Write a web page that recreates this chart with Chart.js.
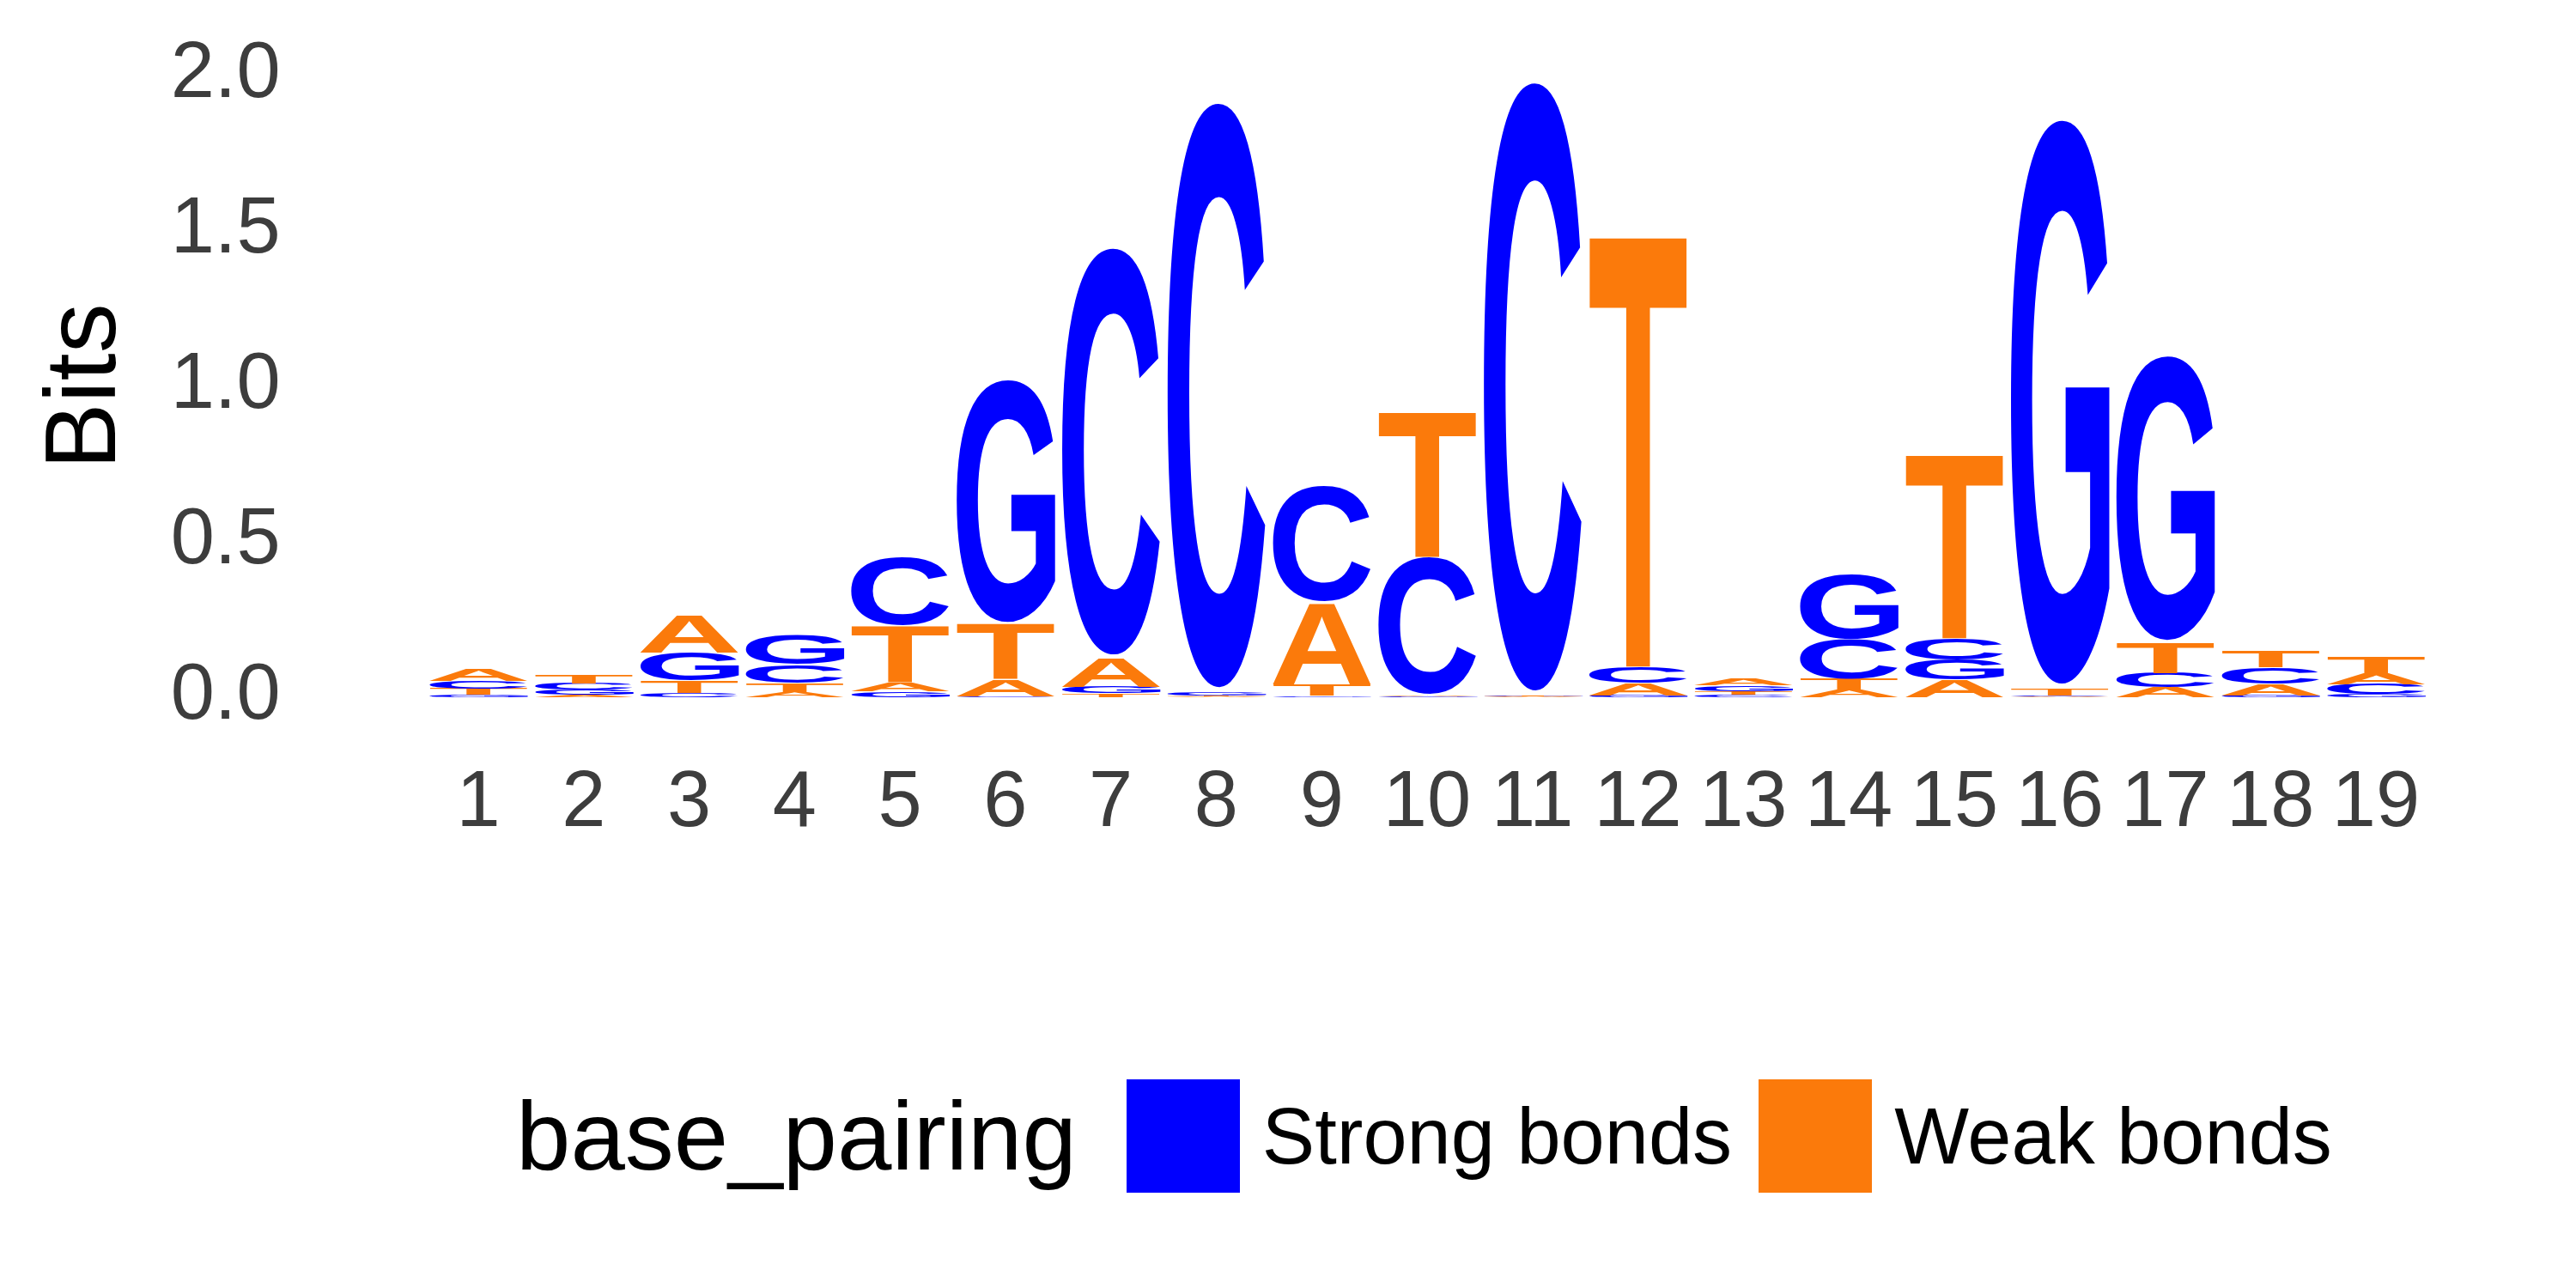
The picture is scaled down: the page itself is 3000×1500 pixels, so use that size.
<!DOCTYPE html>
<html>
<head>
<meta charset="utf-8">
<title>Sequence logo</title>
<script src="https://cdn.jsdelivr.net/npm/chart.js@4.4.0/dist/chart.umd.min.js"></script>
<style>
    body { margin: 0; background: #ffffff; }
    #wrap { position: relative; width: 3000px; height: 1500px; }
    #logoChart { display: block; }
    #legend {
        position: absolute; left: 601px; top: 1257px; height: 132px;
        display: flex; align-items: center;
        font-family: 'Liberation Sans', Arial, sans-serif; color: #000000;
    }
    .legend-title { font-size: 114px; line-height: 1; white-space: nowrap; margin-right: 58px; }
    .legend-box { width: 132px; height: 132px; flex: none; }
    .legend-label { font-size: 92px; line-height: 1; white-space: nowrap; margin-left: 26px; margin-right: 31px; }
</style>
</head>
<body>
<div id="wrap">
    <canvas id="logoChart" width="3000" height="1500"></canvas>
    <div id="legend"></div>
</div>
<script>
// positions along the motif
const positions = ['1', '2', '3', '4', '5', '6', '7', '8', '9', '10',
                   '11', '12', '13', '14', '15', '16', '17', '18', '19'];

// letter heights (bits) per position
const heightA = [0.041, 0.007, 0.122, 0.017, 0.029, 0.055, 0.094, 0.003, 0.264, 0.004,
                 0.002, 0.041, 0.021, 0.025, 0.056, 0.003, 0.032, 0.037, 0.034];
const heightC = [0.025, 0.020, 0.014, 0.060, 0.221, 0.003, 1.325, 1.905, 0.378, 0.447,
                 1.982, 0.052, 0.008, 0.127, 0.070, 0.003, 0.046, 0.053, 0.031];
const heightG = [0.007, 0.017, 0.090, 0.094, 0.018, 0.789, 0.021, 0.011, 0.005, 0.003,
                 0.002, 0.006, 0.019, 0.209, 0.064, 1.838, 0.925, 0.006, 0.010];
const heightT = [0.021, 0.028, 0.039, 0.029, 0.184, 0.178, 0.012, 0.003, 0.037, 0.472,
                 0.002, 1.407, 0.012, 0.034, 0.599, 0.023, 0.099, 0.055, 0.057];

// y axis tick labels
const bitTicks = [0, 0.5, 1, 1.5, 2];

// colour groups
const legendTitle = 'base_pairing';
const groupNames = ['Strong bonds', 'Weak bonds'];
const groupColors = ['#0000FF', '#FB7A0B'];
const letterGroup = { A: 1, C: 0, G: 0, T: 1 };

const fontFamily = '"Liberation Sans", Arial, sans-serif';

// stack letters per position, smallest at the bottom
function buildLayers() {
    const byLetter = { A: heightA, C: heightC, G: heightG, T: heightT };
    const letters = Object.keys(byLetter);
    const layers = letters.map(() => ({ values: [], letters: [] }));

    positions.forEach((pos, i) => {
        const sorted = letters.slice().sort((a, b) => byLetter[a][i] - byLetter[b][i]);
        sorted.forEach((letter, k) => {
            layers[k].values.push(byLetter[letter][i]);
            layers[k].letters.push(letter);
        });
    });
    return layers;
}

// draws each letter stretched into its bar rectangle
const letterPlugin = {
    id: 'letterGlyphs',
    afterDatasetsDraw(chart) {
        const ctx = chart.ctx;
        ctx.save();
        ctx.font = 'bold 400px ' + fontFamily;
        ctx.textAlign = 'left';
        ctx.textBaseline = 'alphabetic';

        chart.data.datasets.forEach((ds, k) => {
            const meta = chart.getDatasetMeta(k);
            meta.data.forEach((bar, i) => {
                const { x, y, base, width } = bar.getProps(['x', 'y', 'base', 'width'], true);
                const top = Math.min(y, base);
                const h = Math.abs(base - y);
                if (h <= 0) return;

                const letter = ds.letters[i];
                const m = ctx.measureText(letter);
                const gw = m.actualBoundingBoxLeft + m.actualBoundingBoxRight;
                const gh = m.actualBoundingBoxAscent + m.actualBoundingBoxDescent;

                ctx.save();
                ctx.translate(x - width / 2, top);
                ctx.scale(width / gw, h / gh);
                ctx.fillStyle = groupColors[letterGroup[letter]];
                ctx.fillText(letter, m.actualBoundingBoxLeft, m.actualBoundingBoxAscent);
                ctx.restore();
            });
        });
        ctx.restore();
    }
};

// legend under the plot
function buildLegend() {
    const legend = document.getElementById('legend');

    const title = document.createElement('span');
    title.className = 'legend-title';
    title.textContent = legendTitle;
    legend.appendChild(title);

    groupNames.forEach((name, g) => {
        const box = document.createElement('div');
        box.className = 'legend-box';
        box.style.background = groupColors[g];
        legend.appendChild(box);

        const label = document.createElement('span');
        label.className = 'legend-label';
        label.textContent = name;
        legend.appendChild(label);
    });
}

// create chart
function createChart() {
    const layers = buildLayers();
    const datasets = layers.map((layer, k) => ({
        label: 'layer ' + (k + 1),
        data: layer.values,
        letters: layer.letters,
        backgroundColor: 'rgba(0, 0, 0, 0)',
        borderWidth: 0,
        stack: 'logo',
        categoryPercentage: 0.95,
        barPercentage: 1
    }));

    const tickFont = { family: fontFamily, size: 92 };

    new Chart(document.getElementById('logoChart').getContext('2d'), {
        type: 'bar',
        data: { labels: positions, datasets: datasets },
        options: {
            responsive: false,
            animation: false,
            devicePixelRatio: 1,
            events: [],
            layout: {
                autoPadding: false,
                padding: { top: 51.8, right: 171.6, bottom: 0, left: 0 }
            },
            plugins: {
                legend: { display: false },
                tooltip: { enabled: false }
            },
            scales: {
                x: {
                    stacked: true,
                    offset: true,
                    grid: { display: false, drawTicks: false, tickLength: 0 },
                    border: { display: false },
                    ticks: {
                        font: tickFont,
                        color: '#3d3d3d',
                        padding: 33,
                        autoSkip: false,
                        maxRotation: 0
                    },
                    afterFit(scale) {
                        scale.height = 651.8;
                        scale.paddingLeft = 0;
                        scale.paddingRight = 0;
                    }
                },
                y: {
                    stacked: true,
                    min: -0.1,
                    max: 2.1,
                    grid: { display: false, drawTicks: false, tickLength: 0 },
                    border: { display: false },
                    title: {
                        display: true,
                        text: 'Bits',
                        color: '#000000',
                        font: { family: fontFamily, size: 116 },
                        padding: { top: 32, bottom: 0 }
                    },
                    ticks: {
                        font: tickFont,
                        color: '#3d3d3d',
                        padding: 169,
                        callback: (value) => Number(value).toFixed(1)
                    },
                    afterBuildTicks(scale) {
                        scale.ticks = bitTicks.map(v => ({ value: v }));
                    },
                    afterFit(scale) {
                        // tick padding should not push the plot area down
                        scale.width = 495.6;
                        scale.paddingTop = 0;
                        scale.paddingBottom = 0;
                    }
                }
            }
        },
        plugins: [letterPlugin]
    });
}

window.addEventListener('DOMContentLoaded', function() {
    buildLegend();
    createChart();
});
</script>
</body>
</html>
